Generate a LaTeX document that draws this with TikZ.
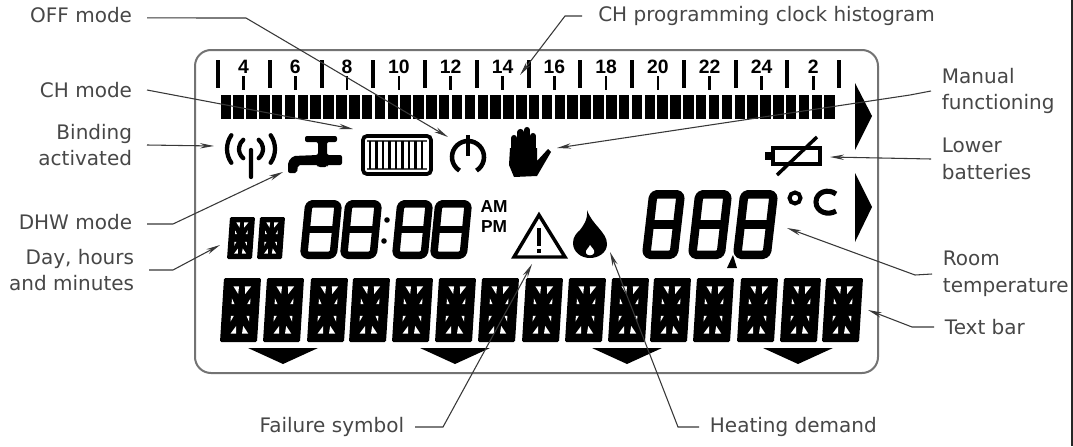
\documentclass[tikz,border=0pt]{standalone}
\usepackage{fontspec}
\setmainfont{DejaVu Sans}
\newfontfamily\lcdfont{Liberation Sans}[BoldFont={Liberation Sans Bold}]
\usetikzlibrary{arrows.meta}
% seven-segment digit: x(bottom-left) ytop width height slant linewidth(px)
\newcommand{\dsev}[6]{%
 \pgfmathsetmacro\xBL{#1+#6/2}\pgfmathsetmacro\xBR{#1+#3-#5-#6/2}%
 \pgfmathsetmacro\xTR{#1+#3-#6/2}\pgfmathsetmacro\xTL{#1+#5+#6/2}%
 \pgfmathsetmacro\yT{#2+#6/2}\pgfmathsetmacro\yB{#2+#4-#6/2}\pgfmathsetmacro\yM{#2+#4/2}%
 \pgfmathsetmacro\xML{(\xBL+\xTL)/2}\pgfmathsetmacro\xMR{(\xBR+\xTR)/2}%
 \draw[line width=#6*0.75pt,line join=round,rounded corners=3pt,black]
   (\xBL,\yB)--(\xBR,\yB)--(\xTR,\yT)--(\xTL,\yT)--cycle;
 \draw[line width=#6*0.75pt,black] (\xML,\yM)--(\xMR,\yM);}
% fourteen-segment block: x(bottom-left) ytop width height slant
\newcommand{\dblk}[5]{%
 \begin{scope}[shift={(#1,#2+#4)},x={({(#3-#5)*0.75pt},0pt)},y={({#5*0.75pt},{#4*0.75pt})}]
 \fill[black,rounded corners=1pt] (0,0)--(1,0)--(1,1)--(0,1)--cycle;
 \fill[white] (.27,.87)--(.42,.87)--(.41,.75)--cycle (.58,.87)--(.75,.87)--(.6,.75)--cycle
  (.25,.68)--(.25,.59)--(.33,.59)--cycle (.75,.68)--(.75,.59)--(.67,.59)--cycle
  (.25,.41)--(.33,.41)--(.25,.32)--cycle (.75,.41)--(.67,.41)--(.75,.32)--cycle
  (.41,.25)--(.42,.13)--(.27,.13)--cycle (.6,.25)--(.58,.13)--(.75,.13)--cycle;
 \end{scope}}
\tikzset{
 x=0.75pt,y=-0.75pt,
 lbl/.style={font=\fontsize{15pt}{20pt}\selectfont,text=black!72,inner ysep=0pt},
 lblr/.style={lbl,anchor=east,align=right,inner xsep=11pt},
 lbll/.style={lbl,anchor=west,align=left,inner xsep=8pt},
 leader/.style={draw=black!78,line width=0.8pt},
 arrowed/.style={leader,-{Stealth[length=10.5pt,width=4pt]}},
 hourlbl/.style={font=\lcdfont\bfseries\fontsize{14.5pt}{14.5pt}\selectfont,inner sep=0pt},
 lcdframe/.style={draw=black!55,line width=1.5pt,rounded corners=12pt},
 thicktick/.style={line width=3pt,black},
 thintick/.style={line width=2pt,black}
}
\begin{document}
\begin{tikzpicture}
\useasboundingbox (0,0) rectangle (1073,446);
\fill[white] (0,0) rectangle (1073,446);
\fill[black!85] (1070.5,0) rectangle (1072.5,446);
\draw[lcdframe] (195,50) rectangle (878,373);
% ticks and hour labels
\foreach \k in {0,...,12} \draw[thicktick] ({218+51.75*\k},60)--({218+51.75*\k},88);
\foreach \k/\t in {0/4,1/6,2/8,3/10,4/12,5/14,6/16,7/18,8/20,9/22,10/24,11/2}{
  \node[hourlbl] (h\k) at ({243.5+51.8*\k},67) {\t};
  \draw[thintick] ({243.5+51.8*\k},76)--({243.5+51.8*\k},90);}
% histogram
\foreach \i in {0,...,47} \fill[black] ({220.5+12.85*\i},95) rectangle ({231+12.85*\i},119);
% side and bottom triangles
\fill[black] (855,83)--(872,116)--(855,150)--cycle (855,173)--(872,207)--(855,242)--cycle;
\foreach \a in {248,420,592,763} \fill[black] (\a,348)--({\a+70},348)--({\a+35},364)--cycle;
% antenna
\draw[line width=3.2pt,black,line cap=round]
  (251,150)--(251,177)
  (251,149) ++(145:24) arc[start angle=145,end angle=215,radius=24]
  (251,149) ++(130:12) arc[start angle=130,end angle=230,radius=12]
  (251,149) ++(35:24) arc[start angle=35,end angle=-35,radius=24]
  (251,149) ++(50:12) arc[start angle=50,end angle=-50,radius=12];
% tap
\fill[black,rounded corners=1.5pt] (305,136)--(337,136)--(337,142)--(327,142)--(327,155)--(342,155)--(342,165)--(327,165)--(327,167)--(318,167)--(318,165)--(298,165)--(297,173)--(288,173)--(288,162)--(293,156)--(318,155)--(318,142)--(305,142)--cycle;
% radiator
\draw[line width=2.8pt,black,rounded corners=3pt] (363,136) rectangle (431,174);
\draw[line width=1pt,black!70] (367,141)--(427,141) (367,169)--(427,169);
\foreach \f in {370,376.5,...,425} \draw[line width=1.6pt,black] (\f,141)--(\f,169);
% power symbol
\draw[line width=3.4pt,black] (468,157) ++(58:16) arc[start angle=58,end angle=-238,radius=16];
\draw[line width=3.4pt,black] (468,135)--(468,156);
% hand
\fill[black,line join=round] (510,148)--(537,148)--(537,161)--(548,149)--(551,152)--(537,176)--(514,177)--(509,165)--cycle;
\draw[line width=4.6pt,black,line cap=round] (514,150)--(514,138) (520.5,150)--(520.5,132) (527,150)--(527,130) (533,150)--(533,136);
% battery
\draw[line width=3pt,black] (773,148) rectangle (820,164);
\fill[black] (765,152) rectangle (772,160);
\draw[line width=2.6pt,black] (777,175)--(817,137);
% clock digits
\dsev{300}{200}{42}{59}{5}{7.5}
\dsev{340}{200}{42}{59}{5}{7.5}
\dsev{392}{200}{41}{59}{5}{7.5}
\dsev{430}{200}{42}{59}{5}{7.5}
\fill[black] (387,220) circle[radius=2.8] (384,241) circle[radius=2.8];
\node[font=\lcdfont\bfseries\fontsize{13pt}{15pt}\selectfont,align=center,inner sep=0pt] (ampm) at (494,217) {AM\\PM};
% day blocks
\dblk{227}{217}{28}{42}{3}
\dblk{257}{217}{28}{42}{3}
% warning triangle
\draw[line width=2.6pt,black,line join=miter] (539,215)--(565,257)--(514,257)--cycle;
\draw[line width=2.6pt,black] (539,228)--(539,246) (539,249)--(539,253);
% flame
\fill[black] (587,210) .. controls (592,225) and (607,232) .. (607,244) .. controls (607,253) and (598,258) .. (590,258) .. controls (581,258) and (573,252) .. (573,243) .. controls (573,236) and (577,233) .. (580,230) .. controls (583,226) and (588,220) .. (587,210) -- cycle;
\fill[white] (590,245) .. controls (592,248) and (595,250) .. (594,253) .. controls (593,256) and (587,256) .. (586,253) .. controls (585,250) and (589,248) .. (590,245) -- cycle;
% room temperature
\dsev{642}{190}{43}{69}{7}{8.5}
\dsev{688}{190}{44}{69}{7}{8.5}
\dsev{733}{190}{45}{69}{7}{8.5}
\fill[black] (727,268)--(733,255)--(737,268)--cycle;
\draw[line width=3pt,black] (795,198) circle[radius=5.5];
\draw[line width=3.8pt,black] (836,194) .. controls (828,188) and (816,192) .. (816,202) .. controls (816,212) and (828,216) .. (836,211);
% text bar
\foreach \c in {220,263,307,349,392,435,478,522,565,608,650,693,737,780,822}{\dblk{\c}{278}{41}{64}{4}}
% labels
\node[lblr] (off) at (147,15) {OFF mode};
\node[lblr] (chm) at (147,90) {CH mode};
\node[lblr] (bind) at (147,145) {Binding\\activated};
\node[lblr] (dhw) at (147,222) {DHW mode};
\node[lblr] (day) at (149,270) {Day, hours\\and minutes};
\node[lbll,inner xsep=12pt] (hist) at (582,16) {CH programming clock histogram};
\node[lbll] (man) at (931,91) {Manual\\functioning};
\node[lbll] (low) at (931,159) {Lower\\batteries};
\node[lbll] (room) at (932,274) {Room\\temperature};
\node[lbll] (bar) at (934,327) {Text bar};
\node[lbl,anchor=east,inner xsep=8pt] (fail) at (415,427) {Failure symbol};
\node[lbl,anchor=west,inner xsep=8pt] (heat) at (699,427) {Heating demand};
% connector bends and tips
\coordinate (offb) at (246,18); \coordinate (offt) at (448,137);
\coordinate (cht) at (353,129);
\coordinate (bindt) at (214,146);
\coordinate (dhwb) at (173,224); \coordinate (dhwt) at (283,172);
\coordinate (dayb) at (173,270); \coordinate (dayt) at (220,245);
\coordinate (histb) at (565,16); \coordinate (histt) at (520,75);
\coordinate (manb) at (910,95); \coordinate (mant) at (557,148);
\coordinate (lowt) at (830,157);
\coordinate (roomb) at (915,275); \coordinate (roomt) at (787,228);
\coordinate (barb) at (912,327); \coordinate (bart) at (868,310);
\coordinate (failb) at (443,427); \coordinate (failt) at (532,264);
\coordinate (heatb) at (678,427); \coordinate (heatt) at (610,252);
% connectors
\draw[arrowed] (off.east)++(0,-2.2pt) -- (offb) -- (offt);
\draw[arrowed] (chm.east) -- (cht);
\draw[arrowed] (bind.east) -- (bindt);
\draw[arrowed] (dhw.east)++(0,-1.5pt) -- (dhwb) -- (dhwt);
\draw[arrowed] (day.east) -- (dayb) -- (dayt);
\draw[arrowed] (hist.west) -- (histb) -- (histt);
\draw[arrowed] (man.west) -- (manb) -- (mant);
\draw[arrowed] (low.west) -- (lowt);
\draw[arrowed] (room.west) -- (roomb) -- (roomt);
\draw[arrowed] (bar.west) -- (barb) -- (bart);
\draw[arrowed] (fail.east) -- (failb) -- (failt);
\draw[arrowed] (heat.west) -- (heatb) -- (heatt);
\end{tikzpicture}
\end{document}
